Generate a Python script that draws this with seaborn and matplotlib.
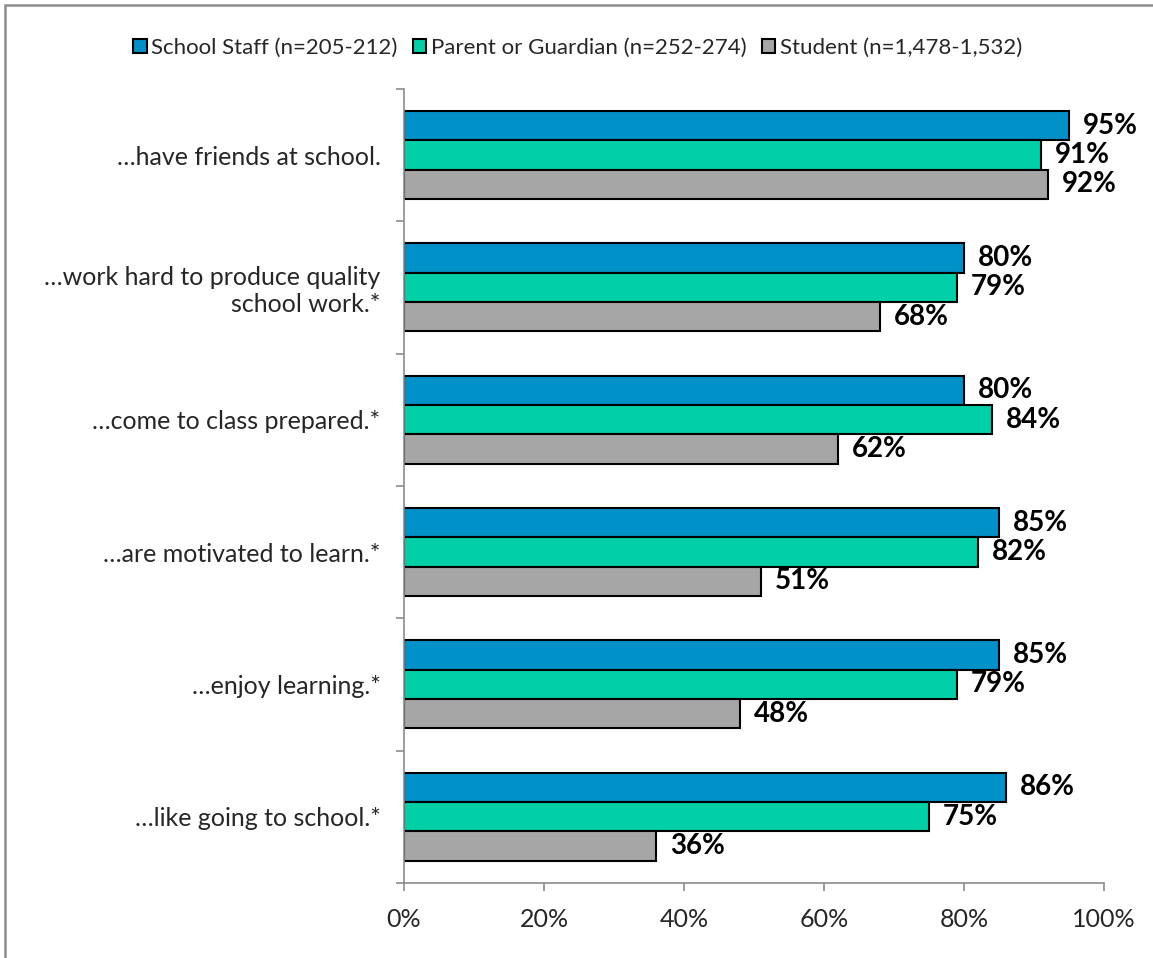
import matplotlib
matplotlib.use("Agg")
import matplotlib.pyplot as plt
import seaborn as sns
import pandas as pd
from matplotlib.patches import Rectangle

categories = ["…have friends at school.",
              "…work hard to produce quality\nschool work.*",
              "…come to class prepared.*",
              "…are motivated to learn.*",
              "…enjoy learning.*",
              "…like going to school.*"]
series = ["School Staff (n=205-212)", "Parent or Guardian (n=252-274)", "Student (n=1,478-1,532)"]
staff = [95, 80, 80, 85, 85, 86]
parent = [91, 79, 84, 82, 79, 75]
student = [92, 68, 62, 51, 48, 36]
colors = ["#0091C9", "#00CFA7", "#A6A6A6"]

rows = []
for s, vals in zip(series, [staff, parent, student]):
    for c, v in zip(categories, vals):
        rows.append({"cat": c, "series": s, "val": v})
df = pd.DataFrame(rows)

sns.set_theme(style="white")
plt.rcParams["font.family"] = ["Lato", "DejaVu Sans"]

fig = plt.figure(figsize=(11.53, 9.58), dpi=100)
ax = fig.add_axes([0.3504, 0.0783, 0.6071, 0.8288])
sns.barplot(data=df, y="cat", x="val", hue="series", orient="h",
            palette=colors, width=0.665, edgecolor="black", linewidth=1.5,
            saturation=1, ax=ax, legend=True)

for cont in ax.containers:
    ax.bar_label(cont, labels=[f"{int(v)}%" for v in cont.datavalues],
                 padding=10, fontsize=20, fontweight="bold", color="black")

ax.set_xlim(0, 100)
ax.set_ylim(5.5, -0.5)
ax.set_xticks([0, 20, 40, 60, 80, 100])
ax.set_xticklabels(["0%", "20%", "40%", "60%", "80%", "100%"], fontsize=18)
ax.set_yticks(range(len(categories)))
ax.set_yticklabels(categories, fontsize=18)
ax.set_yticks([i - 0.5 for i in range(len(categories) + 1)], minor=True)
ax.tick_params(axis="y", which="major", length=0, pad=17)
ax.tick_params(axis="y", which="minor", length=6, color="#8C8C8C", width=1.2, left=True)
ax.tick_params(axis="x", which="major", length=6, color="#8C8C8C", width=1.2, bottom=True, pad=12)
ax.set_xlabel("")
ax.set_ylabel("")
for sp in ["top", "right"]:
    ax.spines[sp].set_visible(False)
for sp in ["left", "bottom"]:
    ax.spines[sp].set_color("#8C8C8C")
    ax.spines[sp].set_linewidth(1.2)

handles, labels = ax.get_legend_handles_labels()
ax.legend_.remove()
leg = fig.legend(handles, labels, loc="center", bbox_to_anchor=(0.501, 0.95), ncol=3,
                 frameon=False, fontsize=16, handlelength=0.6, handleheight=0.6,
                 handletextpad=0.2, columnspacing=0.7)

fig.patches.append(Rectangle((5 / 1153, -0.02), 1.05, 1 - 5 / 958 + 0.02, transform=fig.transFigure,
                             fill=False, edgecolor="#8C8C8C", linewidth=1.8))

fig.savefig("out.png", dpi=100)
